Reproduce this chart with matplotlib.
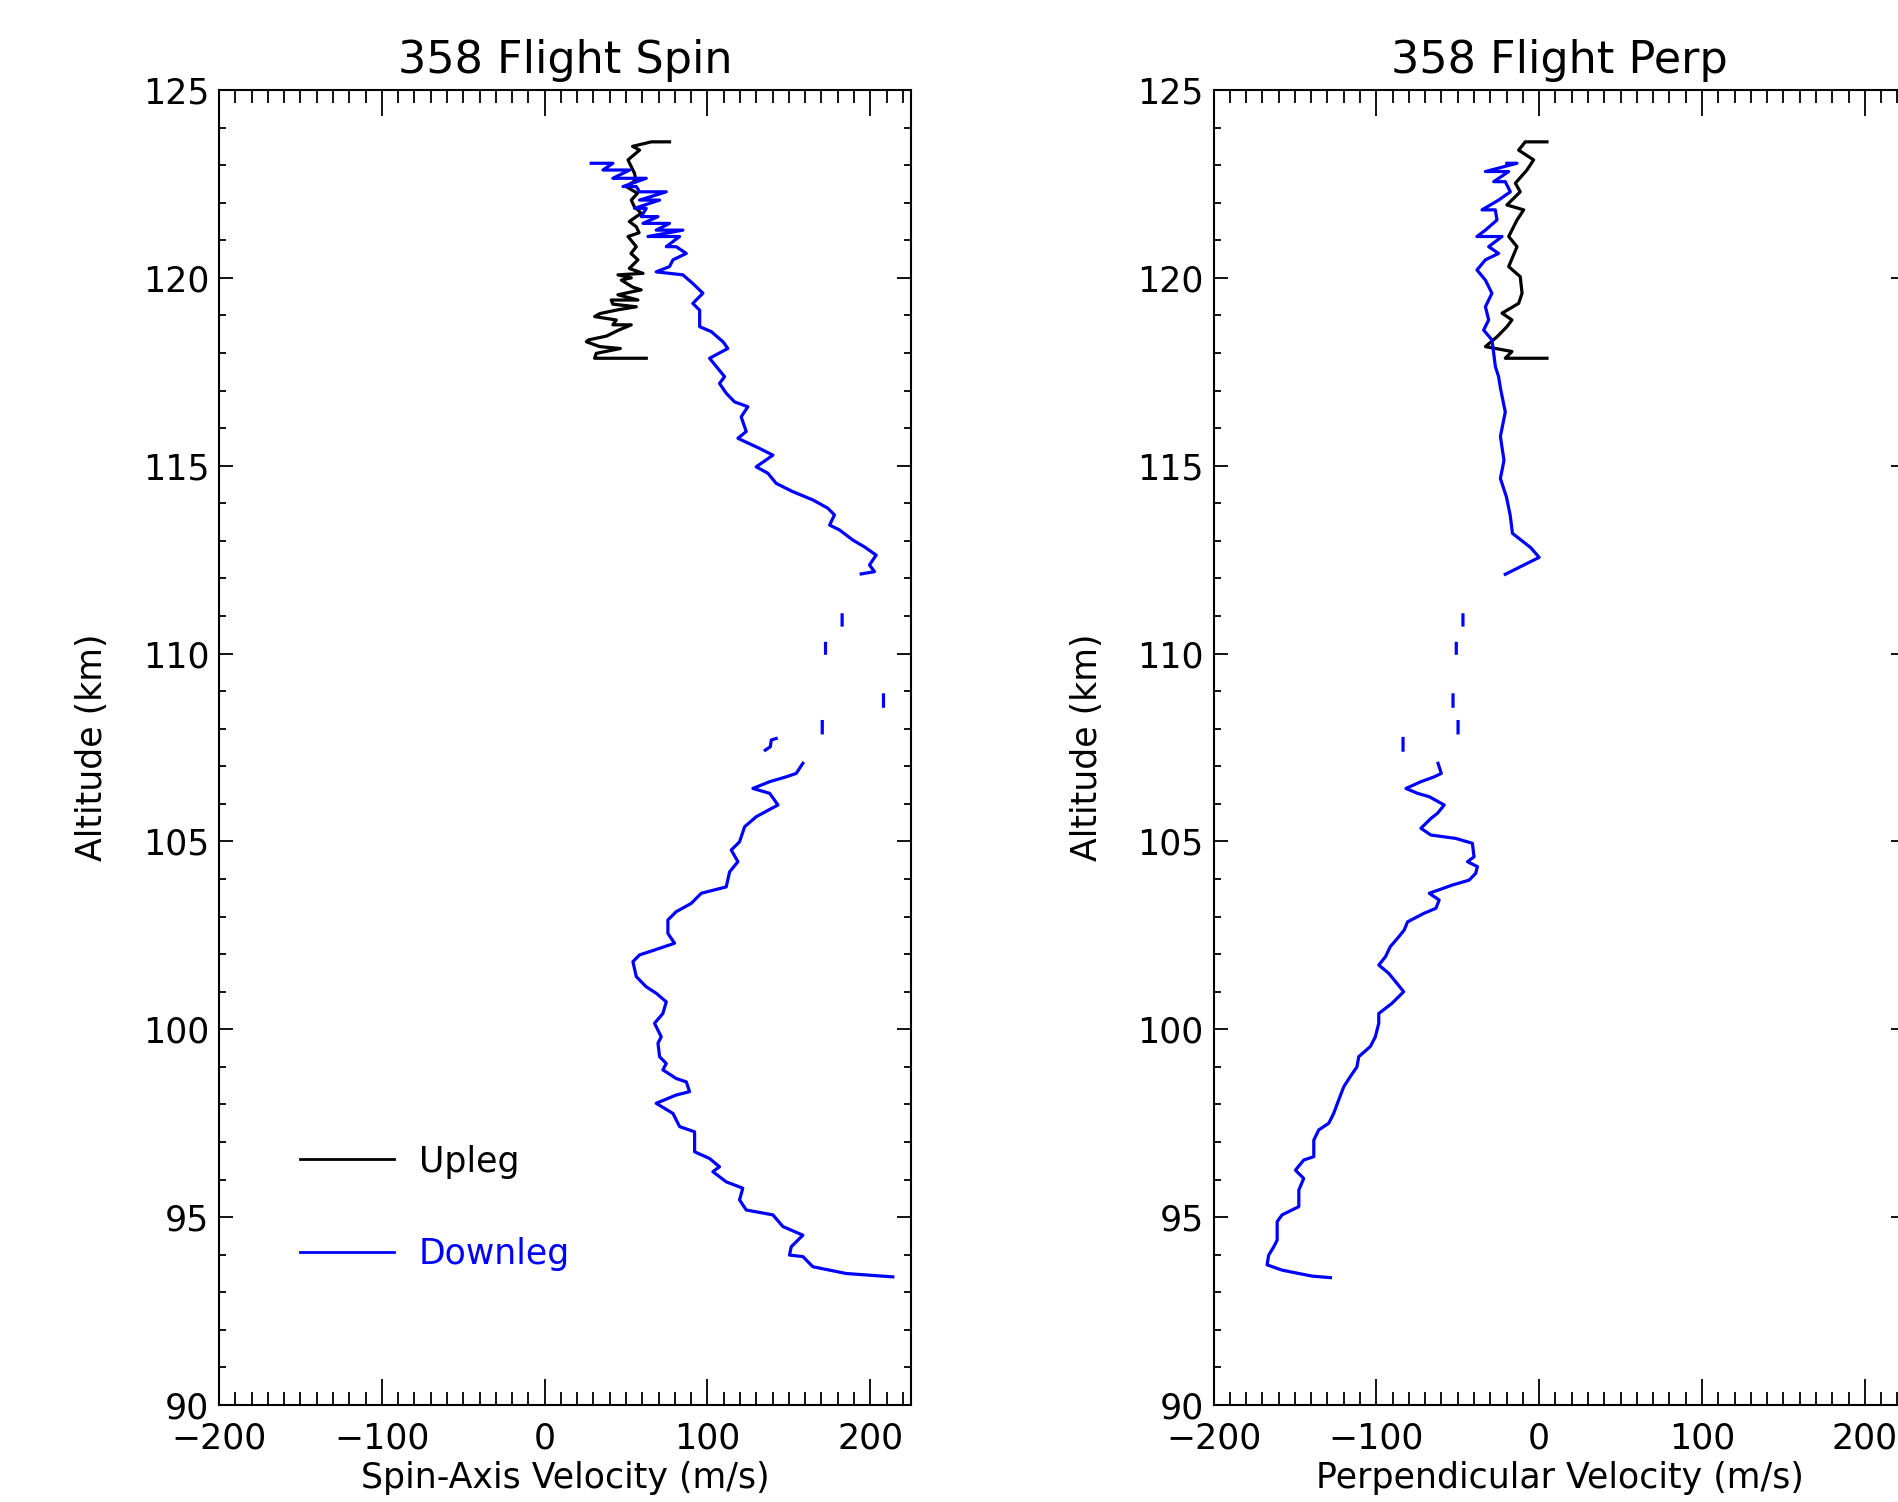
import numpy as np
import matplotlib
matplotlib.use("Agg")
import matplotlib.pyplot as plt
from matplotlib.ticker import MultipleLocator

# ---- data (velocity m/s, altitude km); NaN = gap ----
nan = np.nan

spin_up_vel = [62.4, 30.7, 31.7, 46.5, 33.8, 25.6, 27.0, 38.0, 45.0, 53.2, 41.9, 44.0,
               37.9, 30.7, 34.0, 45.0, 56.3, 41.9, 40.9, 57.3, 45.0, 59.3, 54.2, 47.1,
               53.2, 45.0, 60.4, 52.0, 57.3, 53.0, 56.3, 51.2, 58.0, 56.3, 52.0, 59.3,
               55.0, 53.2, 57.0, 50.1, 56.0, 55.2, 51.2, 58.3, 54.0, 65.5, 76.7]
spin_up_alt = [117.86, 117.86, 117.99, 118.12, 118.17, 118.30, 118.35, 118.45, 118.60,
               118.75, 118.75, 118.88, 118.92, 118.97, 119.05, 119.15, 119.23, 119.30,
               119.41, 119.41, 119.55, 119.68, 119.75, 119.94, 120.00, 120.08, 120.12,
               120.25, 120.48, 120.65, 120.83, 121.10, 121.20, 121.36, 121.50, 121.72,
               121.90, 122.07, 122.25, 122.43, 122.60, 122.78, 123.14, 123.40, 123.50,
               123.62, 123.62]

spin_down_vel = [28.6, 41.9, 35.8, 52.2, 41.9, 62.4, 48.1, 56.3, 58.3, 74.7, 58.3, 70.6,
                 55.2, 62.4, 59.3, 69.6, 60.4, 76.7, 68.5, 84.9, 63.4, 82.9, 74.7, 80.8,
                 87.0, 78.8, 76.7, 68.5, 84.9, 91.0, 97.2, 91.0, 95.2, 95.2, 102.3, 109.5,
                 112.5, 101.3, 105.4, 110.5, 107.4, 111.5, 116.6, 124.8, 120.7, 123.8,
                 118.7, 132.0, 140.2, 129.9, 137.1, 142.2, 152.4, 164.7, 173.9, 178.0,
                 175.0, 181.1, 189.3, 196.4, 203.6, 199.5, 202.6, 194.4,
                 nan, 182.7, 182.7, nan, 172.5, 172.5, nan, 208.1, 208.1, nan, 170.5, 170.5,
                 nan, 142.2, 139.2, 138.6, 135.5,
                 nan, 158.6, 154.5, 148.4, 138.2, 127.9, 138.2, 143.3, 130.0, 122.8,
                 119.7, 114.6, 118.7, 113.6, 111.5, 96.2, 90.0, 80.8, 75.7, 75.7, 79.8,
                 67.5, 58.3, 54.2, 56.3, 62.4, 68.5, 74.7, 72.6, 67.5, 71.6, 69.6, 70.6,
                 74.7, 72.6, 80.8, 87.0, 89.0, 80.8, 68.5, 78.8, 82.9, 92.1, 92.1, 92.1,
                 101.3, 107.4, 103.3, 111.5, 121.7, 119.7, 123.8, 140.2, 146.3, 158.6,
                 151.4, 150.4, 158.6, 164.7, 185.2, 213.8]
spin_down_alt = [123.05, 123.05, 122.87, 122.87, 122.65, 122.65, 122.43, 122.43, 122.29,
                 122.29, 122.07, 122.07, 121.85, 121.85, 121.63, 121.63, 121.45, 121.45,
                 121.27, 121.27, 121.10, 121.10, 120.83, 120.83, 120.65, 120.48, 120.30,
                 120.16, 120.08, 119.85, 119.59, 119.32, 119.14, 118.70, 118.57, 118.30,
                 118.12, 117.86, 117.64, 117.37, 117.19, 116.93, 116.70, 116.57, 116.30,
                 115.91, 115.73, 115.46, 115.28, 114.97, 114.80, 114.53, 114.31, 114.09,
                 113.87, 113.69, 113.42, 113.29, 113.02, 112.84, 112.62, 112.36, 112.18,
                 112.12,
                 nan, 111.03, 110.76, nan, 110.27, 110.01, nan, 108.90, 108.60, nan, 108.19,
                 107.89,
                 nan, 107.74, 107.70, 107.52, 107.43,
                 nan, 107.08, 106.81, 106.72, 106.59, 106.41, 106.28, 105.97, 105.66,
                 105.39, 104.99, 104.77, 104.46, 104.19, 103.79, 103.62, 103.35, 103.13,
                 102.91, 102.55, 102.29, 102.11, 101.98, 101.80, 101.40, 101.13, 100.96,
                 100.73, 100.42, 100.16, 99.80, 99.63, 99.27, 99.09, 98.92, 98.69, 98.60,
                 98.34, 98.25, 98.03, 97.76, 97.41, 97.27, 97.01, 96.74, 96.56, 96.34,
                 96.21, 95.94, 95.77, 95.46, 95.19, 95.06, 94.75, 94.52, 94.21, 93.99,
                 93.95, 93.68, 93.50, 93.41]

perp_up_vel = [4.8, -20.8, -16.7, -33.0, -25.9, -19.8, -16.7, -22.8, -12.6, -10.5, -11.6,
               -18.7, -13.6, -18.7, -13.6, -9.5, -19.8, -11.6, -14.6, -7.5, -3.4, -12.6,
               -8.5, 4.8]
perp_up_alt = [117.86, 117.86, 118.04, 118.17, 118.43, 118.70, 118.88, 119.06, 119.32,
               119.59, 120.03, 120.30, 120.83, 121.10, 121.54, 121.81, 121.94, 122.29,
               122.52, 122.87, 123.14, 123.40, 123.62, 123.62]

perp_down_vel = [-19.8, -13.6, -33.0, -18.7, -27.9, -20.8, -17.7, -24.9, -35.1, -26.9,
                 -25.9, -33.0, -38.2, -22.8, -31.0, -24.9, -33.0, -38.2, -33.0, -29.0,
                 -33.0, -31.0, -34.1, -29.0, -27.9, -26.9, -24.9, -23.8, -20.8, -23.8,
                 -21.6, -23.8, -20.1, -17.8, -16.4, -5.2, 0.0, -7.4, -20.8,
                 nan, -46.8, -46.8, nan, -50.9, -50.9, nan, -52.9, -52.9, nan, -49.8, -49.8,
                 nan, -83.6, -83.6,
                 nan, -62.1, -60.1, -64.4, -72.6, -81.8, -74.7, -67.5, -58.3, -62.4, -66.5,
                 -72.6, -66.5, -51.2, -41.0, -40.0, -44.0, -37.9, -39.0, -43.0, -53.2,
                 -67.5, -61.4, -63.4, -70.6, -80.8, -82.9, -87.0, -91.4, -94.4, -98.5,
                 -92.4, -87.3, -83.2, -90.4, -98.5, -98.5, -100.6, -103.7, -110.8, -111.9,
                 -116.0, -120.0, -123.1, -126.2, -129.2, -135.4, -138.4, -138.4, -144.6,
                 -149.7, -144.6, -147.6, -147.6, -157.9, -160.9, -160.9, -160.9, -163.0,
                 -166.1, -167.1, -157.9, -147.6, -139.4, -128.2]
perp_down_alt = [123.05, 123.05, 122.83, 122.83, 122.56, 122.56, 122.29, 122.07, 121.81,
                 121.81, 121.54, 121.27, 121.10, 121.10, 120.83, 120.65, 120.48, 120.21,
                 119.94, 119.59, 119.23, 118.88, 118.61, 118.35, 117.99, 117.64, 117.37,
                 117.07, 116.43, 115.78, 115.14, 114.66, 114.17, 113.69, 113.20, 112.82,
                 112.56, 112.40, 112.11,
                 nan, 111.03, 110.76, nan, 110.27, 110.01, nan, 108.90, 108.60, nan, 108.19,
                 107.89,
                 nan, 107.74, 107.43,
                 nan, 107.08, 106.81, 106.72, 106.59, 106.41, 106.28, 106.19, 105.97,
                 105.75, 105.61, 105.35, 105.17, 105.08, 104.95, 104.59, 104.46, 104.33,
                 104.15, 103.97, 103.84, 103.62, 103.44, 103.22, 103.09, 102.86, 102.64,
                 102.42, 102.20, 101.93, 101.71, 101.49, 101.22, 101.00, 100.69, 100.42,
                 100.16, 99.80, 99.54, 99.27, 99.00, 98.74, 98.47, 98.12, 97.76, 97.50,
                 97.32, 97.05, 96.61, 96.52, 96.25, 96.03, 95.72, 95.28, 95.06, 94.88,
                 94.66, 94.39, 94.21, 93.99, 93.73, 93.59, 93.50, 93.43, 93.39]

titles = ["358 Flight Spin", "358 Flight Perp"]
xlabels = ["Spin-Axis Velocity (m/s)", "Perpendicular Velocity (m/s)"]

plt.rcParams["font.family"] = "DejaVu Sans"
plt.rcParams["font.size"] = 25

fig = plt.figure(figsize=(18.99, 15.02), dpi=100)
fig.patch.set_facecolor("white")

ax_w = 692 / 1899
ax_h = 1315 / 1502
bottom = 1 - 1405 / 1502
ax_spin = fig.add_axes([219 / 1899, bottom, ax_w, ax_h])
ax_perp = fig.add_axes([1213.5 / 1899, bottom, ax_w, ax_h])

ax_spin.plot(spin_up_vel, spin_up_alt, color="black", lw=2.3, label="Upleg")
ax_spin.plot(spin_down_vel, spin_down_alt, color="#0000FF", lw=2.3, label="Downleg")
ax_perp.plot(perp_up_vel, perp_up_alt, color="black", lw=2.3)
ax_perp.plot(perp_down_vel, perp_down_alt, color="#0000FF", lw=2.3)

for ax, title, xlabel in zip([ax_spin, ax_perp], titles, xlabels):
    ax.set_xlim(-200, 225)
    ax.set_ylim(90, 125)
    ax.xaxis.set_major_locator(MultipleLocator(100))
    ax.xaxis.set_minor_locator(MultipleLocator(10))
    ax.yaxis.set_major_locator(MultipleLocator(5))
    ax.yaxis.set_minor_locator(MultipleLocator(1))
    ax.tick_params(axis="both", which="both", direction="in",
                   top=True, right=True, colors="black", labelsize=25)
    ax.tick_params(axis="x", which="major", length=19, width=1.3, pad=12)
    ax.tick_params(axis="x", which="minor", length=9.5, width=1.3)
    ax.tick_params(axis="y", which="major", length=10, width=1.3, pad=7)
    ax.tick_params(axis="y", which="minor", length=5, width=1.3)
    for spine in ax.spines.values():
        spine.set_linewidth(1.5)
    ax.set_title(title, fontsize=32, pad=12)
    ax.set_xlabel(xlabel, fontsize=25, labelpad=4)
    ax.set_ylabel("Altitude (km)", fontsize=25, labelpad=24)

leg = ax_spin.legend(loc="center left", bbox_to_anchor=(0.117, 0.150),
                     frameon=False, handlelength=2.7, handletextpad=0.72,
                     labelspacing=1.68, borderpad=0, borderaxespad=0,
                     labelcolor="linecolor", fontsize=25)
for line in leg.get_lines():
    line.set_linewidth(2.0)

fig.savefig("out.png", dpi=100, facecolor="white")
